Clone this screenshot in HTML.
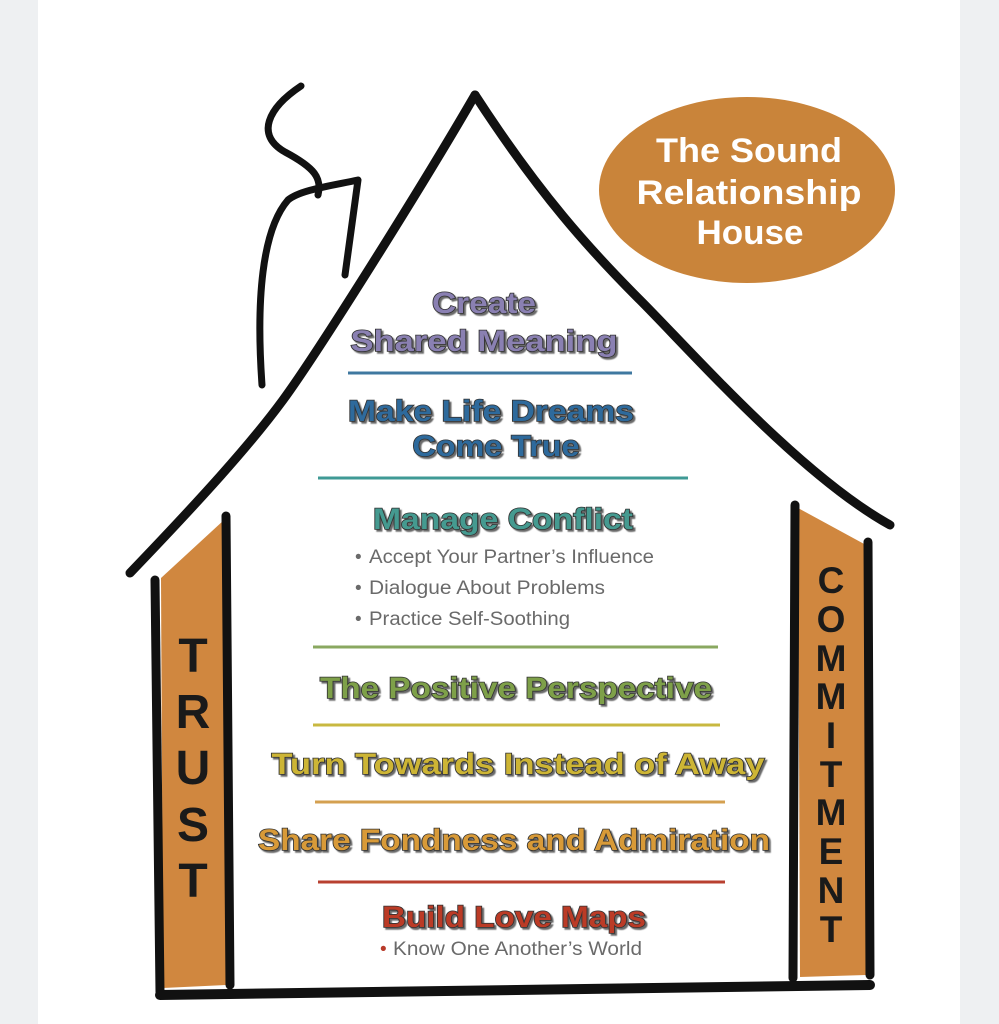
<!DOCTYPE html>
<html><head><meta charset="utf-8"><style>
html,body{margin:0;padding:0;background:#fff;}
body{width:999px;height:1024px;overflow:hidden;}
svg{display:block}
.h{font-family:"Liberation Sans",sans-serif;font-weight:bold;text-anchor:middle;stroke:#333;stroke-width:1.6px;paint-order:stroke;}
.b{font-family:"Liberation Sans",sans-serif;font-size:19px;fill:#6a6a6a;}
.p{font-family:"Liberation Sans",sans-serif;font-weight:bold;fill:#1a1a1a;text-anchor:middle;}
</style></head><body>
<svg width="999" height="1024" viewBox="0 0 999 1024" xmlns="http://www.w3.org/2000/svg">
<defs><filter id="sh"><feDropShadow dx="2" dy="2" stdDeviation="0.6" flood-color="#444" flood-opacity="0.8"/></filter></defs>
<rect x="0" y="0" width="38" height="1024" fill="#eef0f2"/>
<rect x="960" y="0" width="39" height="1024" fill="#eef0f2"/>
<polygon points="161,578 224,520 226,985 163,988" fill="#d0873f"/>
<polygon points="798,508 866,545 866,975 800,977" fill="#d0873f"/>
<g fill="none" stroke="#111" stroke-linecap="round" stroke-linejoin="round">
<path d="M130,573 C200,500 250,445 283,400 S420,190 475,95" stroke-width="9"/>
<path d="M475,95 C540,195 590,250 640,300 S800,475 890,525" stroke-width="9"/>
<path d="M301,86 C268,108 255,135 285,152 C315,168 322,178 318,195" stroke-width="7"/>
<path d="M262,385 C256,300 262,230 288,200 C300,190 330,186 358,180 L345,275" stroke-width="7"/>
<path d="M155,580 L160,992" stroke-width="9"/>
<path d="M226,516 L230,985" stroke-width="9"/>
<path d="M795,505 L793,978" stroke-width="9"/>
<path d="M868,542 L870,975" stroke-width="9"/>
<path d="M160,995 L870,985" stroke-width="10"/>
</g>
<ellipse cx="747" cy="190" rx="148" ry="93" fill="#c9843a"/>
<g font-family="Liberation Sans, sans-serif" font-weight="bold" fill="#fff" text-anchor="middle" font-size="34">
<text x="749" y="162" textLength="186" lengthAdjust="spacingAndGlyphs">The Sound</text>
<text x="749" y="204" textLength="225" lengthAdjust="spacingAndGlyphs">Relationship</text>
<text x="750" y="244" textLength="107" lengthAdjust="spacingAndGlyphs">House</text>
</g>
<g stroke-width="3">
<line x1="348" y1="373" x2="632" y2="373" stroke="#3f78a0"/>
<line x1="318" y1="478" x2="688" y2="478" stroke="#3f9a95"/>
<line x1="313" y1="647" x2="718" y2="647" stroke="#8aa860"/>
<line x1="313" y1="725" x2="720" y2="725" stroke="#c8b840"/>
<line x1="315" y1="802" x2="725" y2="802" stroke="#d4a050"/>
<line x1="318" y1="882" x2="725" y2="882" stroke="#b84030"/>
</g>
<g filter="url(#sh)">
<text class="h" x="484" y="313" font-size="30" fill="#8a80b2" textLength="104" lengthAdjust="spacingAndGlyphs">Create</text>
<text class="h" x="484" y="351" font-size="30" fill="#8a80b2" textLength="267" lengthAdjust="spacingAndGlyphs">Shared Meaning</text>
<text class="h" x="491" y="421" font-size="30" fill="#2e6a9c" textLength="286" lengthAdjust="spacingAndGlyphs">Make Life Dreams</text>
<text class="h" x="496" y="456" font-size="30" fill="#2e6a9c" textLength="167" lengthAdjust="spacingAndGlyphs">Come True</text>
<text class="h" x="503" y="529" font-size="30" fill="#459a90" textLength="260" lengthAdjust="spacingAndGlyphs">Manage Conflict</text>
<text class="h" x="516" y="698" font-size="30" fill="#7ea048" textLength="392" lengthAdjust="spacingAndGlyphs">The Positive Perspective</text>
<text class="h" x="518" y="774" font-size="30" fill="#cdb535" textLength="493" lengthAdjust="spacingAndGlyphs">Turn Towards Instead of Away</text>
<text class="h" x="514" y="850" font-size="30" fill="#d89a38" textLength="512" lengthAdjust="spacingAndGlyphs">Share Fondness and Admiration</text>
<text class="h" x="514" y="927" font-size="30" fill="#bb3a28" textLength="264" lengthAdjust="spacingAndGlyphs">Build Love Maps</text>
</g>
<text class="b" x="355" y="563">• <tspan x="369" textLength="285" lengthAdjust="spacingAndGlyphs">Accept Your Partner’s Influence</tspan></text>
<text class="b" x="355" y="594">• <tspan x="369" textLength="236" lengthAdjust="spacingAndGlyphs">Dialogue About Problems</tspan></text>
<text class="b" x="355" y="625">• <tspan x="369" textLength="201" lengthAdjust="spacingAndGlyphs">Practice Self-Soothing</tspan></text>
<text class="b" x="380" y="955"><tspan fill="#b83a2a">•</tspan> <tspan x="393" textLength="249" lengthAdjust="spacingAndGlyphs">Know One Another’s World</tspan></text>
<g class="p" font-size="48">
<text x="193" y="672">T</text>
<text x="193" y="728">R</text>
<text x="193" y="784">U</text>
<text x="193" y="841">S</text>
<text x="193" y="897">T</text>
</g>
<g class="p" font-size="37">
<text x="831" y="593">C</text>
<text x="831" y="632">O</text>
<text x="831" y="671">M</text>
<text x="831" y="709">M</text>
<text x="831" y="748">I</text>
<text x="831" y="787">T</text>
<text x="831" y="825">M</text>
<text x="831" y="864">E</text>
<text x="831" y="903">N</text>
<text x="831" y="942">T</text>
</g>
</svg>
</body></html>
